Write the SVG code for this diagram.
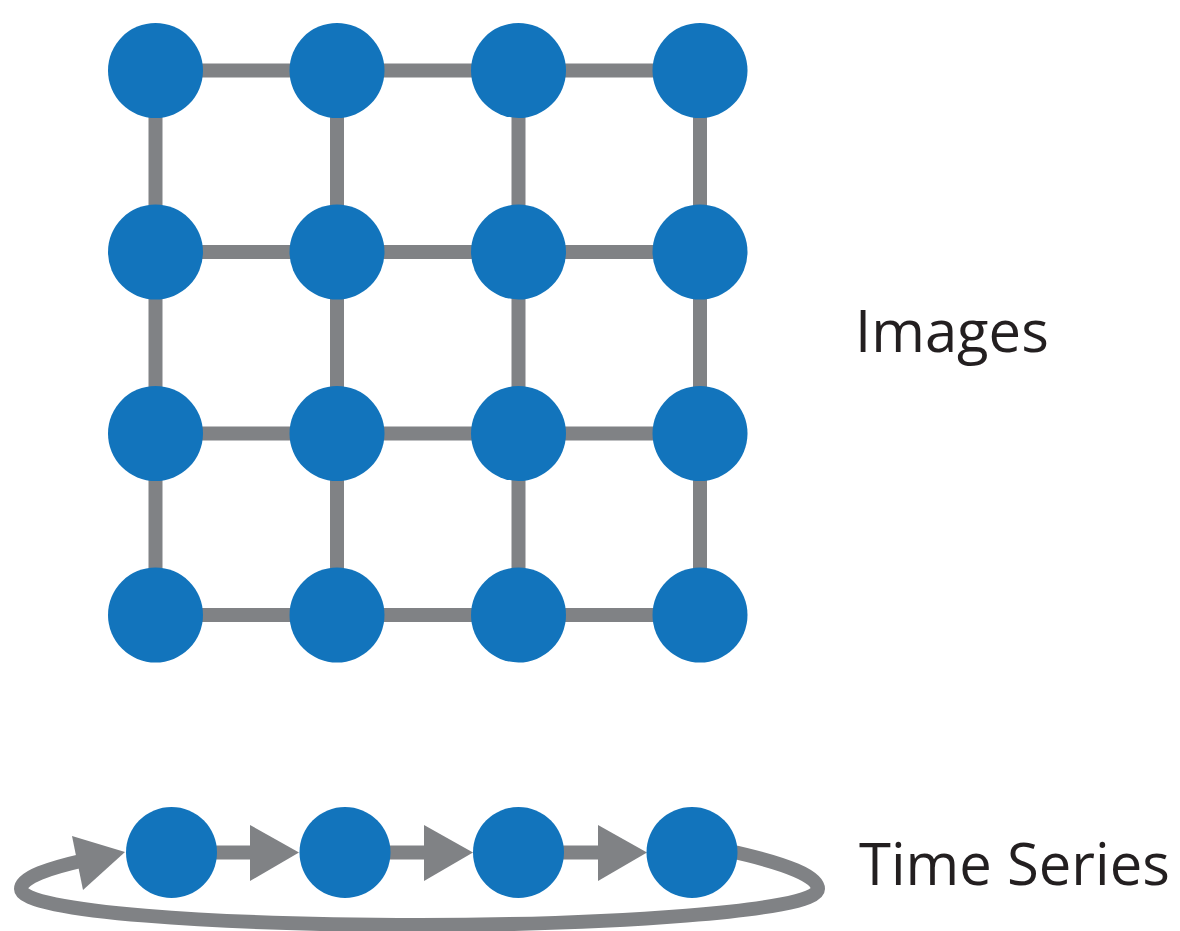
<svg xmlns="http://www.w3.org/2000/svg" width="1180" height="931" viewBox="0 0 1180 931">
<style>
.node{fill:#1274bc}
.edge{stroke:#808285;stroke-width:14;fill:none}
.head{fill:#808285}
.label{font-family:"Open Sans","Noto Sans",sans-serif;font-size:58px;fill:#231f20}
</style>
<rect width="1180" height="931" fill="#fff"/>
<g id="connectors">
<line class="edge" x1="155.5" y1="70.5" x2="700" y2="70.5"/>
<line class="edge" x1="155.5" y1="252" x2="700" y2="252"/>
<line class="edge" x1="155.5" y1="433.5" x2="700" y2="433.5"/>
<line class="edge" x1="155.5" y1="615" x2="700" y2="615"/>
<line class="edge" x1="155.5" y1="70.5" x2="155.5" y2="615"/>
<line class="edge" x1="337" y1="70.5" x2="337" y2="615"/>
<line class="edge" x1="518.5" y1="70.5" x2="518.5" y2="615"/>
<line class="edge" x1="700" y1="70.5" x2="700" y2="615"/>
<line class="edge" x1="171.5" y1="852.5" x2="255" y2="852.5"/>
<polygon class="head" points="250,825 299,852.5 250,881"/>
<line class="edge" x1="345" y1="852.5" x2="430" y2="852.5"/>
<polygon class="head" points="424,825 473,852.5 424,881"/>
<line class="edge" x1="518.5" y1="852.5" x2="604" y2="852.5"/>
<polygon class="head" points="598,825 647,852.5 598,881"/>
<path class="edge" d="M 725 850 C 790 864 818 877 818 889 C 818 912 600 925 420 925 C 220 925 21 912 21 889 C 21 877 50 868 85 860"/>
<polygon class="head" points="72,836 125,852 83,890"/>
</g>
<g id="n11"><circle class="node" cx="155.5" cy="70.5" r="47.5"/></g>
<g id="n12"><circle class="node" cx="337" cy="70.5" r="47.5"/></g>
<g id="n13"><circle class="node" cx="518.5" cy="70.5" r="47.5"/></g>
<g id="n14"><circle class="node" cx="700" cy="70.5" r="47.5"/></g>
<g id="n21"><circle class="node" cx="155.5" cy="252" r="47.5"/></g>
<g id="n22"><circle class="node" cx="337" cy="252" r="47.5"/></g>
<g id="n23"><circle class="node" cx="518.5" cy="252" r="47.5"/></g>
<g id="n24"><circle class="node" cx="700" cy="252" r="47.5"/></g>
<g id="n31"><circle class="node" cx="155.5" cy="433.5" r="47.5"/></g>
<g id="n32"><circle class="node" cx="337" cy="433.5" r="47.5"/></g>
<g id="n33"><circle class="node" cx="518.5" cy="433.5" r="47.5"/></g>
<g id="n34"><circle class="node" cx="700" cy="433.5" r="47.5"/></g>
<g id="n41"><circle class="node" cx="155.5" cy="615" r="47.5"/></g>
<g id="n42"><circle class="node" cx="337" cy="615" r="47.5"/></g>
<g id="n43"><circle class="node" cx="518.5" cy="615" r="47.5"/></g>
<g id="n44"><circle class="node" cx="700" cy="615" r="47.5"/></g>
<g id="t1"><circle class="node" cx="171.5" cy="852.5" r="45.5"/></g>
<g id="t2"><circle class="node" cx="345" cy="852.5" r="45.5"/></g>
<g id="t3"><circle class="node" cx="518.5" cy="852.5" r="45.5"/></g>
<g id="t4"><circle class="node" cx="692" cy="852.5" r="45.5"/></g>
<g id="label-images"><text class="label" x="855" y="352">Images</text></g>
<g id="label-timeseries"><text class="label" x="859" y="885">Time Series</text></g>
</svg>
